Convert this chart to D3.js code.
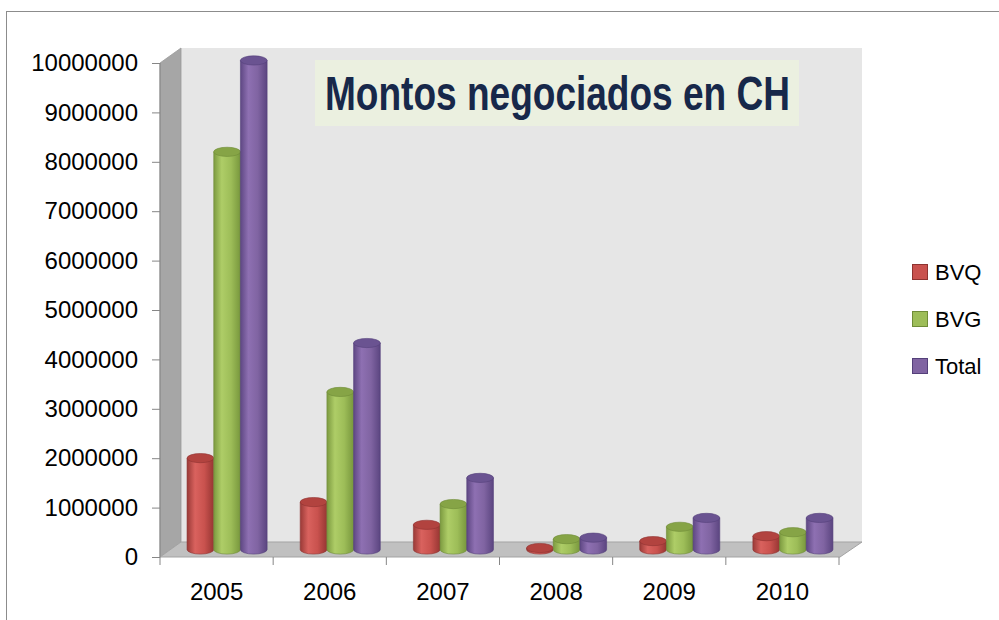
<!DOCTYPE html>
<html>
<head>
<meta charset="utf-8">
<script src="https://cdn.jsdelivr.net/npm/d3@7"></script>
<style>
  body { margin: 0; background: #fff; }
  svg { display: block; font-family: "Liberation Sans", Arial, sans-serif; }
</style>
</head>
<body>
<div id="chart"></div>
<script>
// data
var years = ["2005", "2006", "2007", "2008", "2009", "2010"];
var seriesNames = ["BVQ", "BVG", "Total"];
var bvq   = [1850000, 960000, 500000, 30000, 170000, 270000];
var bvg   = [8050000, 3190000, 920000, 210000, 460000, 350000];
var total = [9900000, 4180000, 1450000, 240000, 640000, 640000];
var yTicks = [0, 1000000, 2000000, 3000000, 4000000, 5000000, 6000000, 7000000, 8000000, 9000000, 10000000];
var seriesColors = {
    BVQ:   { side: ["#9a3a37", "#d9625e", "#c9524e", "#973633"], top: "#b2433f", edge: "#8e3330" },
    BVG:   { side: ["#7c9a40", "#aecd67", "#9dbd58", "#78973d"], top: "#86a446", edge: "#6f8c37" },
    Total: { side: ["#5e4783", "#8e70b2", "#8064a2", "#5b4580"], top: "#6a5391", edge: "#54407a" }
};

var width = 999, height = 620;
var dx = 21, dy = -15; // depth offset of the 3d box

var svg = d3.select("#chart").append("svg")
    .attr("width", width)
    .attr("height", height);

// outer frame (only left and top edges are in view)
svg.append("rect")
    .attr("x", 6.5).attr("y", 11.5)
    .attr("width", 1010).attr("height", 640)
    .attr("fill", "none")
    .attr("stroke", "#8c8c8c")
    .attr("stroke-width", 1);

// scales
var x = d3.scaleBand().domain(years).range([160, 839]);
var y = d3.scaleLinear().domain([0, 10000000]).range([557, 63]);
var xs = d3.scaleBand().domain(seriesNames).range([0, x.bandwidth()]).paddingOuter(0.62);

var x0 = x.range()[0], x1 = x.range()[1];
var yTop = y(10000000), yBot = y(0);

// back wall
svg.append("path")
    .attr("d", "M" + (x0 + dx) + "," + (yTop + dy) + "L" + (x1 + dx + 2) + "," + (yTop + dy) +
        "L" + (x1 + dx + 2) + "," + (yBot + dy) + "L" + (x0 + dx) + "," + (yBot + dy) + "Z")
    .attr("fill", "#e6e6e6");

// side wall
svg.append("path")
    .attr("d", "M" + x0 + "," + yTop + "L" + (x0 + dx) + "," + (yTop + dy) +
        "L" + (x0 + dx) + "," + (yBot + dy) + "L" + x0 + "," + yBot + "Z")
    .attr("fill", "#a6a6a6")
    .attr("stroke", "#9a9a9a")
    .attr("stroke-width", 0.8);

// floor
svg.append("path")
    .attr("d", "M" + x0 + "," + yBot + "L" + (x0 + dx) + "," + (yBot + dy) +
        "L" + (x1 + dx + 2) + "," + (yBot + dy) + "L" + (x1 + 1) + "," + yBot + "Z")
    .attr("fill", "#c0c0c0")
    .attr("stroke", "#a3a3a3")
    .attr("stroke-width", 1);

// gradients for cylinder sides
var defs = svg.append("defs");
seriesNames.forEach(function (s) {
    var g = defs.append("linearGradient")
        .attr("id", "grad-" + s)
        .attr("x1", "0%").attr("x2", "100%").attr("y1", "0%").attr("y2", "0%");
    var c = seriesColors[s].side;
    g.append("stop").attr("offset", "0%").attr("stop-color", c[0]);
    g.append("stop").attr("offset", "30%").attr("stop-color", c[1]);
    g.append("stop").attr("offset", "65%").attr("stop-color", c[2]);
    g.append("stop").attr("offset", "100%").attr("stop-color", c[3]);
});

// cylinders
var rows = [];
years.forEach(function (yr, i) {
    rows.push({ year: yr, key: "BVQ", value: bvq[i] });
    rows.push({ year: yr, key: "BVG", value: bvg[i] });
    rows.push({ year: yr, key: "Total", value: total[i] });
});

var rx = xs.bandwidth() / 2, ry = 4.6;
var cyl = svg.append("g").selectAll("g")
    .data(rows)
    .enter().append("g");

cyl.append("path")
    .attr("d", function (d) {
        var cx = x(d.year) + xs(d.key) + rx + dx / 2;
        var base = y(0) + dy / 2, top = y(d.value) + dy / 2;
        return "M" + (cx - rx) + "," + top + "L" + (cx - rx) + "," + base +
            "A" + rx + "," + ry + " 0 0 0 " + (cx + rx) + "," + base +
            "L" + (cx + rx) + "," + top + "Z";
    })
    .attr("fill", function (d) { return "url(#grad-" + d.key + ")"; })
    .attr("stroke", function (d) { return seriesColors[d.key].edge; })
    .attr("stroke-width", 0.6);

cyl.append("ellipse")
    .attr("cx", function (d) { return x(d.year) + xs(d.key) + rx + dx / 2; })
    .attr("cy", function (d) { return y(d.value) + dy / 2; })
    .attr("rx", rx)
    .attr("ry", ry)
    .attr("fill", function (d) { return seriesColors[d.key].top; })
    .attr("stroke", function (d) { return seriesColors[d.key].edge; })
    .attr("stroke-width", 0.6);

// y axis
var yAxis = svg.append("g")
    .attr("transform", "translate(" + x0 + ",0)")
    .call(d3.axisLeft(y).tickValues(yTicks).tickFormat(d3.format("d")).tickSize(8).tickPadding(14));
yAxis.select(".domain").attr("stroke", "#868686").attr("d", "M0," + yTop + "V" + yBot);
yAxis.selectAll(".tick line").attr("stroke", "#868686");
yAxis.selectAll("text").attr("fill", "#000").style("font-size", "24px")
    .style("font-family", "'Liberation Sans', Arial, sans-serif");

// x axis
var xAxis = svg.append("g")
    .attr("transform", "translate(0," + yBot + ")")
    .call(d3.axisBottom(x).tickSize(0).tickPadding(26));
xAxis.select(".domain").remove();
xAxis.selectAll("text").attr("fill", "#000").style("font-size", "24px")
    .style("font-family", "'Liberation Sans', Arial, sans-serif");
// boundary ticks between categories
svg.append("g").selectAll("line")
    .data(d3.range(years.length + 1))
    .enter().append("line")
    .attr("x1", function (i) { return x0 + i * x.step(); })
    .attr("x2", function (i) { return x0 + i * x.step(); })
    .attr("y1", yBot)
    .attr("y2", yBot + 8)
    .attr("stroke", "#868686");

// title box
svg.append("rect")
    .attr("x", 315).attr("y", 60)
    .attr("width", 484).attr("height", 66)
    .attr("fill", "#ebf0e0");
svg.append("text")
    .attr("x", 325)
    .attr("y", 110)
    .attr("textLength", 465)
    .attr("lengthAdjust", "spacingAndGlyphs")
    .style("font-family", "'Liberation Sans Narrow', 'Arial Narrow', 'Liberation Sans', sans-serif")
    .style("font-weight", "bold")
    .style("font-size", "49px")
    .attr("fill", "#17284a")
    .text("Montos negociados en CH");

// legend
var legend = svg.append("g").selectAll("g")
    .data(seriesNames)
    .enter().append("g")
    .attr("transform", function (d, i) { return "translate(912," + (264 + i * 47) + ")"; });
legend.append("rect")
    .attr("x", 0.5).attr("y", 0.5)
    .attr("width", 15).attr("height", 15)
    .attr("fill", function (d) { return seriesColors[d].side[2]; })
    .attr("stroke", function (d) { return seriesColors[d].edge; });
legend.append("text")
    .attr("x", 23)
    .attr("y", 16)
    .style("font-size", "22px")
    .attr("fill", "#000")
    .text(function (d) { return d; });
</script>
</body>
</html>
